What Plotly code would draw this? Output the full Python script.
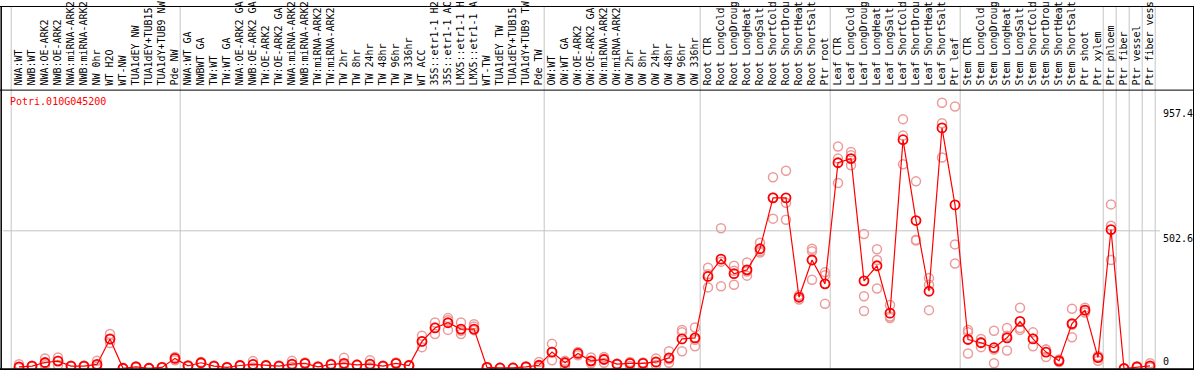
import plotly.graph_objects as go

W, H = 1194, 370

gene = "Potri.010G045200"

labels = [
    "NWA:WT", "NWB:WT", "NWA:OE-ARK2", "NWB:OE-ARK2", "NWA:miRNA-ARK2", "NWB:miRNA-ARK2",
    "NW 0hr", "WT H2O", "WT-NW", "TUA1dEY NW", "TUA1dEY+TUB15", "TUA1dY+TUB9 NW", "Pde NW",
    "NWA:WT GA", "NWBWT GA", "TW:WT", "TW:WT GA", "NWA:OE-ARK2 GA", "NWB:OE-ARK2 GA",
    "TW:OE-ARK2", "TW:OE-ARK2 GA", "NWA:miRNA-ARK2", "NWB:miRNA-ARK2", "TW:miRNA-ARK2",
    "TW:miRNA-ARK2", "TW 2hr", "TW 8hr", "TW 24hr", "TW 48hr", "TW 96hr", "TW 336hr",
    "WT ACC", "35S::etr1-1 H2", "35S::etr1-1 AC", "LMX5::etr1-1 H", "LMX5::etr1-1 A",
    "WT-TW", "TUA1dEY TW", "TUA1dEY+TUB15", "TUA1dY+TUB9 TW", "Pde TW",
    "OW:WT", "OW:WT GA", "OW:OE-ARK2", "OW:OE-ARK2 GA", "OW:miRNA-ARK2", "OW:miRNA-ARK2",
    "OW 2hr", "OW 8hr", "OW 24hr", "OW 48hr", "OW 96hr", "OW 336hr",
    "Root CTR", "Root LongCold", "Root LongDroug", "Root LongHeat", "Root LongSalt",
    "Root ShortCold", "Root ShortDrou", "Root ShortHeat", "Root ShortSalt", "Ptr root",
    "Leaf CTR", "Leaf LongCold", "Leaf LongDroug", "Leaf LongHeat", "Leaf LongSalt",
    "Leaf ShortCold", "Leaf ShortDrou", "Leaf ShortHeat", "Leaf ShortSalt", "Ptr leaf",
    "Stem CTR", "Stem LongCold", "Stem LongDroug", "Stem LongHeat", "Stem LongSalt",
    "Stem ShortCold", "Stem ShortDrou", "Stem ShortHeat", "Stem ShortSalt", "Ptr shoot",
    "Ptr xylem", "Ptr phloem", "Ptr fiber", "Ptr vessel", "Ptr fiber vess",
]

# sizes of the sample groups separated by grey lines
group_sizes = [13, 28, 12, 10, 10, 11, 1, 1, 1, 1]

means = [
    6, 9, 22, 27, 9, 9, 15, 108, 1, 6, 1, 4, 37,
    10, 21, 9, 4, 11, 15, 11, 9, 16, 19, 6, 15, 19, 13, 16, 9, 19, 11,
    99, 148, 167, 144, 144, 4, 2, 2, 6, 12,
    60, 21, 55, 28, 33, 16, 19, 19, 24, 39, 108, 112,
    336, 399, 346, 360, 437, 623, 623, 260, 396, 309,
    751, 766, 320, 375, 202, 835, 540, 282, 878, 597,
    106, 94, 76, 112, 172, 108, 60, 28, 164, 213, 40,
    507, 0, 6, 10,
]

rep1 = [
    16, 10, 37, 40, 10, 11, 28, 126, 2, 8, 2, 6, 42,
    12, 24, 11, 6, 13, 27, 13, 11, 28, 22, 8, 17, 39, 15, 30, 11, 22, 13,
    120, 168, 184, 168, 162, 6, 3, 3, 8, 24,
    90, 28, 60, 40, 42, 18, 24, 22, 37, 63, 141, 150,
    368, 512, 375, 387, 459, 698, 722, 267, 437, 351,
    810, 790, 491, 435, 232, 910, 683, 330, 970, 956,
    141, 108, 138, 148, 222, 132, 69, 33, 218, 222, 45,
    599, 0, 8, 19,
]

rep2 = [
    5, 8, 18, 28, 8, 8, 12, 106, 1, 5, 1, 3, 38,
    9, 20, 8, 3, 10, 14, 10, 8, 14, 18, 5, 14, 14, 12, 13, 8, 18, 10,
    99, 150, 176, 138, 153, 3, 2, 2, 5, 8,
    60, 26, 57, 26, 36, 15, 20, 20, 22, 34, 132, 105,
    344, 390, 357, 354, 429, 624, 605, 261, 428, 340,
    766, 778, 264, 396, 190, 850, 467, 306, 895, 453,
    132, 96, 69, 120, 148, 110, 69, 28, 160, 213, 45,
    521, 0, 5, 6,
]

rep3 = [
    2, 9, 12, 13, 9, 8, 6, 93, 0, 5, 0, 3, 30,
    9, 19, 8, 3, 10, 4, 10, 8, 6, 17, 5, 14, 4, 12, 5, 8, 17, 10,
    78, 126, 141, 126, 140, 3, 1, 1, 5, 4,
    30, 9, 48, 19, 21, 15, 9, 4, 13, 21, 63, 81,
    296, 300, 306, 339, 423, 547, 543, 252, 324, 236,
    677, 742, 210, 292, 184, 745, 470, 213, 770, 383,
    55, 78, 19, 66, 141, 81, 42, 24, 114, 204, 28,
    396, 0, 5, 5,
]

y_ticks = [0, 502.6, 957.4]
y_tick_text = ["0", "502.6", "957.4"]

# ---------------------------------------------------------------- layout maths
X0_PX, STEP_PX = 19.0, 13.0          # centre of first sample, spacing
Y_BOTTOM_PX, Y_TOP_PX = 368.5, 85.0   # value 0 / top of plot area
Y_MAX = 1017.8

x = list(range(len(labels)))
FONT = "DejaVu Sans Mono"
PINK = "#ec9a9a"
RED = "#ff0000"
GREY = "#c4c4c4"

fig = go.Figure()

for reps in (rep1, rep2, rep3):
    fig.add_trace(go.Scatter(
        x=x, y=reps, mode="markers", showlegend=False, hoverinfo="skip",
        marker=dict(symbol="circle-open", size=9, color=PINK, line=dict(width=1.5, color=PINK)),
    ))

fig.add_trace(go.Scatter(
    x=x, y=means, mode="lines+markers", showlegend=False,
    line=dict(color=RED, width=1.2),
    marker=dict(symbol="circle-open", size=9, color=RED, line=dict(width=1.8, color=RED)),
))

def px2paper_x(px):
    return px / W

def px2paper_y(py):
    return (H - py) / H

shapes = []
# grey separators between sample groups
b = 0
bounds = [0]
for g in group_sizes:
    b += g
    bounds.append(b)
for bd in bounds:
    shapes.append(dict(type="line", xref="x", yref="paper", x0=bd - 0.6, x1=bd - 0.6,
                       y0=px2paper_y(Y_BOTTOM_PX), y1=1, line=dict(color=GREY, width=1), layer="below"))
# grey gridline at middle tick
shapes.append(dict(type="line", xref="paper", yref="y", x0=px2paper_x(3), x1=px2paper_x(1160),
                   y0=y_ticks[1], y1=y_ticks[1], line=dict(color=GREY, width=1), layer="below"))
# black frame
blk = dict(color="black", width=1)
shapes += [
    dict(type="line", xref="paper", yref="paper", x0=0, x1=1, y0=px2paper_y(0.5), y1=px2paper_y(0.5), line=blk),
    dict(type="line", xref="paper", yref="paper", x0=0, x1=1, y0=px2paper_y(85.5), y1=px2paper_y(85.5), line=blk),
    dict(type="line", xref="paper", yref="paper", x0=0, x1=1, y0=px2paper_y(369.2), y1=px2paper_y(369.2),
         line=dict(color="black", width=2)),
    dict(type="line", xref="paper", yref="paper", x0=px2paper_x(1.2), x1=px2paper_x(1.2), y0=0, y1=1,
         line=dict(color="black", width=1.5)),
    dict(type="line", xref="paper", yref="paper", x0=px2paper_x(1193.5), x1=px2paper_x(1193.5), y0=0, y1=1, line=blk),
]

annotations = [dict(text=gene, xref="paper", yref="paper", x=px2paper_x(8), y=px2paper_y(97),
                    xanchor="left", yanchor="middle", showarrow=False,
                    font=dict(family=FONT, size=10, color=RED))]
for v, t in zip(y_ticks, y_tick_text):
    annotations.append(dict(text=t, xref="paper", yref="y", x=px2paper_x(1161), y=v,
                            xanchor="left", yanchor="bottom" if v == 0 else "top", showarrow=False,
                            font=dict(family=FONT, size=10, color="black")))

fig.update_layout(
    width=W, height=H, autosize=False,
    margin=dict(l=0, r=0, t=0, b=0, pad=0),
    paper_bgcolor="white", plot_bgcolor="white",
    shapes=shapes, annotations=annotations,
    xaxis=dict(domain=[0, 1], range=[(0 - X0_PX) / STEP_PX, (W - X0_PX) / STEP_PX],
               side="top", tickmode="array", tickvals=x, ticktext=labels, tickangle=-90,
               tickfont=dict(family=FONT, size=10, color="black"), ticks="",
               ticklabelstandoff=3,
               showgrid=False, zeroline=False, showline=False),
    yaxis=dict(domain=[px2paper_y(Y_BOTTOM_PX), px2paper_y(Y_TOP_PX)], range=[0, Y_MAX],
               showticklabels=False, showgrid=False, zeroline=False, showline=False),
)

fig.write_html("out.html", config={"displayModeBar": False},
               post_script="document.body.style.margin='0';document.body.style.overflow='hidden';")
